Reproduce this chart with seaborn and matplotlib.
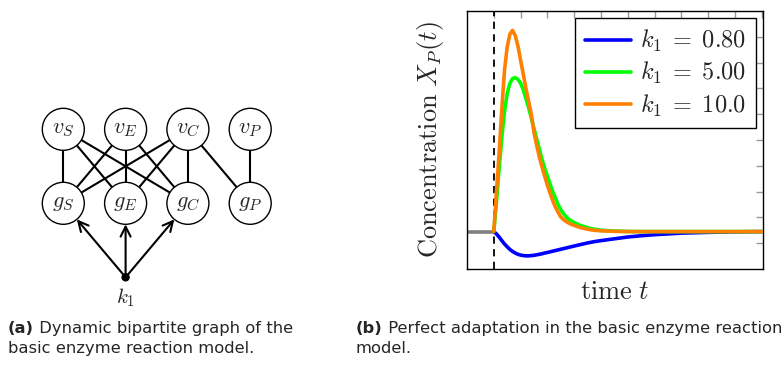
import matplotlib
matplotlib.use("Agg")
import matplotlib.pyplot as plt
from matplotlib.patches import Circle, FancyArrowPatch
import pandas as pd
import seaborn as sns

# --- data ------------------------------------------------------------------
time = [0.0, 0.1, 0.2, 0.3, 0.4, 0.5, 0.6, 0.7, 0.8, 0.9,
        1.0, 1.1, 1.2, 1.3, 1.4, 1.5, 1.6, 1.7, 1.8, 1.9,
        2.0, 2.1, 2.2, 2.3, 2.4, 2.5, 2.6, 2.7, 2.8, 2.9,
        3.0, 3.25, 3.5, 3.75, 4.0, 4.5, 5.0, 5.5, 6.0, 7.0, 8.0, 9.0, 10.0]
xp_k1_080 = [0.45, 0.36, 0.24, 0.10, -0.03, -0.14, -0.24, -0.32, -0.38, -0.43,
             -0.46, -0.48, -0.49, -0.49, -0.48, -0.47, -0.45, -0.43, -0.41, -0.38,
             -0.36, -0.335, -0.31, -0.285, -0.26, -0.235, -0.21, -0.185, -0.16, -0.135,
             -0.11, -0.05, 0.01, 0.06, 0.10, 0.17, 0.24, 0.29, 0.33, 0.39, 0.42, 0.44, 0.45]
xp_k1_500 = [0.45, 1.6, 2.9, 4.1, 5.1, 5.8, 6.2, 6.38, 6.42, 6.35,
             6.2, 5.95, 5.6, 5.25, 4.85, 4.45, 4.05, 3.65, 3.25, 2.9,
             2.6, 2.3, 2.0, 1.75, 1.5, 1.3, 1.15, 1.02, 0.93, 0.86,
             0.8, 0.68, 0.6, 0.54, 0.5, 0.47, 0.455, 0.45, 0.45, 0.45, 0.45, 0.45, 0.45]
xp_k1_100 = [0.45, 2.0, 3.5, 5.2, 6.7, 7.6, 8.1, 8.25, 8.05, 7.65,
             7.1, 6.55, 6.0, 5.5, 5.0, 4.3, 3.8, 3.35, 2.95, 2.6,
             2.25, 1.95, 1.65, 1.4, 1.2, 1.02, 0.92, 0.84, 0.78, 0.73,
             0.69, 0.6, 0.54, 0.5, 0.48, 0.46, 0.45, 0.45, 0.45, 0.45, 0.45, 0.45, 0.45]
series_labels = [r"$k_1 \;=\; 0.80$", r"$k_1 \;=\; 5.00$", r"$k_1 \;=\; 10.0$"]
series_colors = ["#0000ff", "#00ff00", "#ff8000"]
pre_time = [-1, 0]
pre_level = [0.45, 0.45]

# bipartite graph
top_nodes = ["v_S", "v_E", "v_C", "v_P"]
bottom_nodes = ["g_S", "g_E", "g_C", "g_P"]
edges = [("v_S", "g_S"), ("v_S", "g_E"), ("v_S", "g_C"),
         ("v_E", "g_S"), ("v_E", "g_E"), ("v_E", "g_C"),
         ("v_C", "g_S"), ("v_C", "g_E"), ("v_C", "g_C"), ("v_C", "g_P"),
         ("v_P", "g_P")]
driven = ["g_S", "g_E", "g_C"]

caption_a = ["Dynamic bipartite graph of the", "basic enzyme reaction model."]
caption_b = ["Perfect adaptation in the basic enzyme reaction", "model."]

sns.set_style("white")
plt.rcParams["mathtext.fontset"] = "cm"
plt.rcParams["font.family"] = ["DejaVu Sans"]

fig = plt.figure(figsize=(7.84, 3.69), dpi=100)

# --- left panel: graph drawn in pixel coordinates -------------------------
gax = fig.add_axes([0, 0, 1, 1])
gax.set_xlim(0, 784)
gax.set_ylim(369, 0)
gax.axis("off")

col0, col_step = 63.3, 62.3
row_top, row_bot = 129.3, 203.3
radius = 21
pos = {}
for i, n in enumerate(top_nodes):
    pos[n] = (col0 + i * col_step, row_top)
for i, n in enumerate(bottom_nodes):
    pos[n] = (col0 + i * col_step, row_bot)
k1_pos = (col0 + col_step, 277.3)

for a, b in edges:
    gax.plot([pos[a][0], pos[b][0]], [pos[a][1], pos[b][1]],
             color="black", lw=1.5, zorder=1)
for n, (x, y) in pos.items():
    gax.add_patch(Circle((x, y), radius, facecolor="white",
                         edgecolor="black", lw=1.0, zorder=2))
    gax.text(x, y, "$%s$" % n, ha="center", va="center", fontsize=16, zorder=3)

for n in driven:
    arr = FancyArrowPatch(k1_pos, pos[n], arrowstyle="->", mutation_scale=18,
                          shrinkA=0, shrinkB=radius * 0.72, lw=1.5,
                          color="black", zorder=1)
    gax.add_patch(arr)
gax.add_patch(Circle(k1_pos, 3.5, color="black", zorder=3))
gax.text(k1_pos[0], k1_pos[1] + 20, "$k_1$", ha="center", va="center",
         fontsize=15)

# captions
for x0, label, lines in [(8, "(a)", caption_a), (356, "(b)", caption_b)]:
    head = gax.text(x0, 333, label, fontsize=11.8, fontweight="bold",
                    va="baseline")
    gax.annotate(" " + lines[0], xy=(1, 0), xycoords=head, va="bottom",
                 fontsize=11.8)
    gax.text(x0, 353, lines[1], fontsize=11.8, va="baseline")

# --- right panel: adaptation curves ---------------------------------------
ax = fig.add_axes([467 / 784, 100 / 369, 296 / 784, 258 / 369])
df = pd.DataFrame({
    "t": time * 3,
    "XP": xp_k1_080 + xp_k1_500 + xp_k1_100,
    "k1": [series_labels[0]] * len(time) + [series_labels[1]] * len(time)
          + [series_labels[2]] * len(time),
})
ax.plot(pre_time, pre_level, color="#808080", lw=2.6, zorder=1)
ax.axvline(0, color="black", lw=1.3, ls=(0, (4, 3)), zorder=2)
sns.lineplot(data=df, x="t", y="XP", hue="k1", hue_order=series_labels,
             palette=series_colors, lw=2.6, ax=ax, zorder=3)

ax.set_xlim(-1, 10.05)
ax.set_ylim(-1, 9)
ax.set_xticks(range(0, 11))
ax.set_yticks(range(0, 9))
ax.tick_params(direction="in", length=5, color="#999999", width=1,
               top=True, right=True, labelbottom=False, labelleft=False)
for s in ax.spines.values():
    s.set_color("black")
    s.set_linewidth(1.0)
ax.set_xlabel(r"$\mathrm{time}\ t$", fontsize=19, labelpad=7)
ax.set_ylabel(r"$\mathrm{Concentration}\ X_P(t)$", fontsize=19, labelpad=15)

leg = ax.legend(loc="upper right", fontsize=17.5, frameon=True, fancybox=False,
                framealpha=1, edgecolor="black", handlelength=1.9,
                borderaxespad=0.3, labelspacing=0.25, handletextpad=0.35,
                borderpad=0.4)
leg.get_frame().set_linewidth(1.0)
for line in leg.get_lines():
    line.set_linewidth(2.6)

fig.savefig("out.png", dpi=100)
